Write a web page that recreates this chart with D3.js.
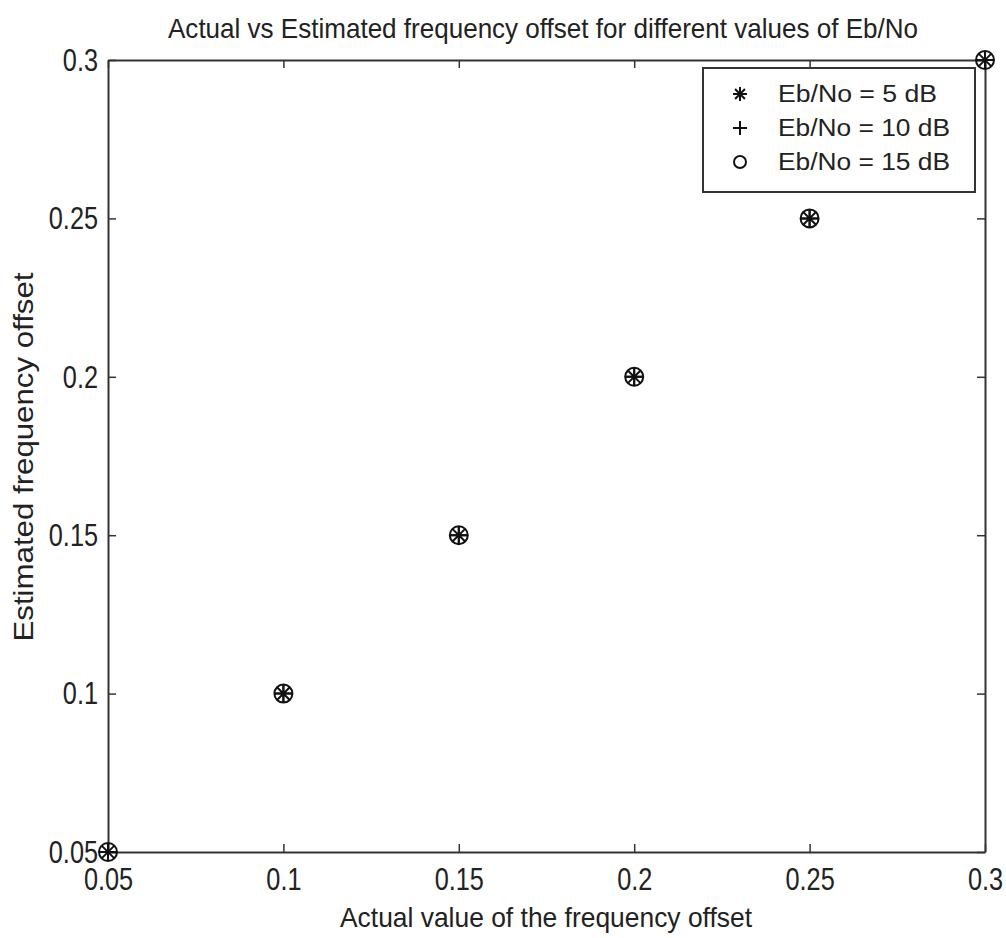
<!DOCTYPE html>
<html>
<head>
<meta charset="utf-8">
<script src="https://cdn.jsdelivr.net/npm/d3@7"></script>
<style>
  body { margin: 0; background: #fff; }
  text { font-family: "Liberation Sans", Arial, sans-serif; fill: #222; }
</style>
</head>
<body>
<div id="chart"></div>
<script>
// chart size
var svgWidth = 1006;
var svgHeight = 938;

var margin = { top: 60, right: 21, bottom: 86, left: 108 };
var chartWidth = svgWidth - margin.left - margin.right;
var chartHeight = svgHeight - margin.top - margin.bottom;

// data
var actualOffset = [0.05, 0.1, 0.15, 0.2, 0.25, 0.3];
var est5dB = [0.05, 0.1, 0.15, 0.2, 0.25, 0.3];
var est10dB = [0.05, 0.1, 0.15, 0.2, 0.25, 0.3];
var est15dB = [0.05, 0.1, 0.15, 0.2, 0.25, 0.3];
var tickValues = [0.05, 0.1, 0.15, 0.2, 0.25, 0.3];
var seriesNames = ["Eb/No = 5 dB", "Eb/No = 10 dB", "Eb/No = 15 dB"];
var seriesMarkers = ["star", "plus", "circle"];

// the original digits are tall and narrow, so squeeze the tick text
function narrow(sel, k) {
  sel.each(function() {
    var w = this.getComputedTextLength();
    d3.select(this).attr("textLength", w * k).attr("lengthAdjust", "spacingAndGlyphs");
  });
}
function fitTo(sel, w) {
  sel.attr("textLength", w).attr("lengthAdjust", "spacingAndGlyphs");
}

var svg = d3.select("#chart")
  .append("svg")
  .attr("width", svgWidth)
  .attr("height", svgHeight);

var chartGroup = svg.append("g")
  .attr("transform", `translate(${margin.left}, ${margin.top})`);

var x = d3.scaleLinear().domain([0.05, 0.3]).range([0, chartWidth]);
var y = d3.scaleLinear().domain([0.05, 0.3]).range([chartHeight, 0]);

var fmt = d => String(d);

// ticks point inwards on all four sides
var tickLen = 8;
chartGroup.append("g")
  .attr("transform", `translate(0, ${chartHeight})`)
  .call(d3.axisBottom(x).tickValues(tickValues).tickFormat(fmt).tickSizeInner(-tickLen).tickSizeOuter(0).tickPadding(15));
chartGroup.append("g")
  .call(d3.axisTop(x).tickValues(tickValues).tickFormat("").tickSizeInner(-tickLen).tickSizeOuter(0));
chartGroup.append("g")
  .call(d3.axisLeft(y).tickValues(tickValues).tickFormat(fmt).tickSizeInner(-tickLen).tickSizeOuter(0).tickPadding(10));
chartGroup.append("g")
  .attr("transform", `translate(${chartWidth}, 0)`)
  .call(d3.axisRight(y).tickValues(tickValues).tickFormat("").tickSizeInner(-tickLen).tickSizeOuter(0));

chartGroup.selectAll(".domain").attr("stroke", "#333").attr("stroke-width", 2);
chartGroup.selectAll(".tick line").attr("stroke", "#333").attr("stroke-width", 1.5);
chartGroup.selectAll(".tick text")
  .attr("font-family", null)
  .style("font-size", "32px")
  .attr("fill", "#333")
  .call(narrow, 0.79);

// marker drawing
function drawMarker(g, type, r) {
  if (type === "star") {
    var d = "";
    [0, 45, 90, 135].forEach(function(a) {
      var rad = a * Math.PI / 180;
      var dx = Math.cos(rad) * r, dy = Math.sin(rad) * r;
      d += `M${-dx},${-dy}L${dx},${dy}`;
    });
    g.append("path").attr("d", d).attr("stroke", "#111").attr("stroke-width", 2).attr("fill", "none");
  } else if (type === "plus") {
    g.append("path").attr("d", `M${-r},0H${r}M0,${-r}V${r}`)
      .attr("stroke", "#111").attr("stroke-width", 2).attr("fill", "none");
  } else {
    g.append("circle").attr("r", r).attr("stroke", "#111").attr("stroke-width", 2).attr("fill", "none");
  }
}

var allSeries = [est5dB, est10dB, est15dB];
allSeries.forEach(function(vals, si) {
  var pts = vals.map((v, i) => ({ x: actualOffset[i], y: v }));
  chartGroup.selectAll(null)
    .data(pts)
    .enter()
    .append("g")
    .attr("transform", d => `translate(${x(d.x)}, ${y(d.y)})`)
    .each(function() { drawMarker(d3.select(this), seriesMarkers[si], 9); });
});

// legend
var legendWidths = [159, 172, 172];
var legend = svg.append("g").attr("transform", "translate(703, 68)");
legend.append("rect")
  .attr("width", 272).attr("height", 124)
  .attr("fill", "#fff").attr("stroke", "#333").attr("stroke-width", 2);
seriesNames.forEach(function(name, i) {
  var row = legend.append("g").attr("transform", `translate(37, ${26 + i * 34})`);
  drawMarker(row, seriesMarkers[i], i === 2 ? 6 : 7);
  row.append("text")
    .attr("x", 38).attr("y", 8)
    .style("font-size", "23px")
    .text(name)
    .call(fitTo, legendWidths[i]);
});

// title and axis labels
svg.append("text")
  .attr("x", 543).attr("y", 38)
  .attr("text-anchor", "middle")
  .style("font-size", "28px")
  .text("Actual vs Estimated frequency offset for different values of Eb/No")
  .call(fitTo, 750);

svg.append("text")
  .attr("x", 546).attr("y", 927)
  .attr("text-anchor", "middle")
  .style("font-size", "28px")
  .text("Actual value of the frequency offset")
  .call(fitTo, 412);

svg.append("text")
  .attr("transform", "translate(33, 457) rotate(-90)")
  .attr("text-anchor", "middle")
  .style("font-size", "28px")
  .text("Estimated frequency offset")
  .call(fitTo, 369);
</script>
</body>
</html>
